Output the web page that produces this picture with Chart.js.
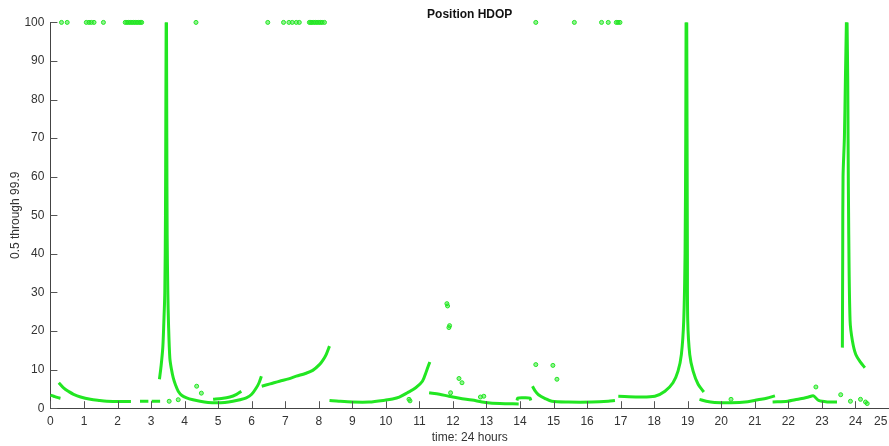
<!DOCTYPE html>
<html>
<head>
<meta charset="utf-8">
<script src="https://cdn.jsdelivr.net/npm/chart.js@4/dist/chart.umd.min.js"></script>
<style>
html,body{margin:0;padding:0;background:#fff;}
#wrap{width:889px;height:446px;}
</style>
</head>
<body>
<div id="wrap"><canvas id="c" width="889" height="446"></canvas></div>
<script>
// ---- data (x = hour, y = HDOP) ----
const segA = [[0,3.4],[0.1,3.1],[0.2,2.8],[0.3,2.6]];
const segB = [[0.25,6.6],[0.4,5.2],[0.55,4.3],[0.69,3.6],[0.9,2.9],[1.19,2.3],[1.45,2.0],[1.68,1.8],[2.0,1.75],[2.4,1.75]];
const segB2 = [[2.67,1.8],[2.92,1.8]];
const segB3 = [[3.02,1.8],[3.27,1.8]];
const spike1L = [[3.25,7.5],[3.3,11],[3.35,15.7],[3.38,22],[3.41,30],[3.43,50],[3.44,75],[3.45,100]];
const spike1R = [[3.46,100],[3.47,70],[3.48,45],[3.5,30],[3.52,22],[3.56,13],[3.61,10],[3.66,7.9],[3.73,6],[3.81,4.4],[3.92,3.3],[4.06,2.7],[4.25,2.2],[4.46,1.8],[4.7,1.5],[4.95,1.4],[5.2,1.5],[5.44,1.8],[5.65,2.2],[5.84,2.7],[6.0,3.6],[6.14,5.3],[6.22,6.6],[6.29,8.3]];
const segSmall = [[4.85,2.3],[5.1,2.5],[5.35,2.9],[5.55,3.6],[5.69,4.4]];
const segC = [[6.3,5.7],[6.55,6.3],[6.83,7.0],[7.1,7.6],[7.33,8.3],[7.6,9.0],[7.82,9.8],[8.02,11.3],[8.12,12.4],[8.22,13.9],[8.32,16.1]];
const segD = [[8.32,2.0],[8.6,1.8],[9.01,1.6],[9.5,1.6],[10.0,2.1],[10.2,2.4],[10.4,2.9],[10.64,4.0],[10.89,5.3],[11.09,7.0],[11.21,9.6],[11.31,12.0]];
const segE = [[11.29,4.0],[11.6,3.6],[11.88,3.1],[12.2,2.6],[12.57,2.1],[12.97,1.5],[13.4,1.2],[13.96,1.1]];
const segF = [[13.91,2.0],[13.93,2.6],[14.1,2.7],[14.3,2.6],[14.32,2.0]];
const segG = [[14.37,5.7],[14.45,4.5],[14.55,3.5],[14.75,2.5],[14.95,1.8],[15.44,1.6],[16.14,1.6],[16.63,1.8],[16.83,2.0]];
const segH = [[16.93,3.1],[17.52,2.9],[18.02,3.1],[18.32,4.4],[18.56,6.6],[18.71,9.6],[18.81,13.9],[18.88,22.6],[18.92,40],[18.94,70],[18.95,100]];
const spike3R = [[18.97,100],[18.98,70],[18.99,40],[19.0,22.6],[19.06,13.9],[19.16,9.6],[19.31,6.2],[19.48,4.2]];
const segI = [[19.35,2.3],[19.55,1.8],[19.8,1.5],[20.29,1.4],[20.79,1.7],[21.09,2.2],[21.35,2.6],[21.6,3.2]];
const segJ = [[21.53,1.6],[21.98,1.8],[22.2,2.2],[22.4,2.5],[22.6,2.9],[22.75,3.2],[22.9,2.0],[23.2,1.6],[23.45,1.6]];
const spike4L = [[23.61,15.7],[23.62,40],[23.63,60],[23.67,70],[23.7,85],[23.73,100]];
const spike4R = [[23.75,100],[23.77,85],[23.78,70],[23.8,45],[23.84,22.6],[23.91,17.4],[24.01,13.9],[24.16,11.8],[24.28,10.5]];
const looseDots = [[3.54,1.8],[3.81,2.2],[4.36,5.7],[4.5,3.9],[10.69,2.3],[10.72,1.9],[11.82,27.1],[11.84,26.5],[11.88,20.9],[11.9,21.4],[11.93,4.0],[12.18,7.7],[12.27,6.6],[12.82,2.9],[12.92,3.1],[14.47,11.3],[14.98,11.1],[15.1,7.5],[20.29,2.3],[22.82,5.5],[23.56,3.5],[23.85,1.8],[24.15,2.3],[24.3,1.6],[24.35,1.2]];
const topRowX = [0.33,0.5,1.07,1.15,1.22,1.3,1.58,2.23,2.28,2.33,2.38,2.43,2.48,2.53,2.58,2.63,2.68,2.72,4.34,6.48,6.95,7.11,7.21,7.33,7.42,7.72,7.76,7.8,7.85,7.9,7.95,8.0,8.05,8.1,8.17,14.47,15.62,16.43,16.63,16.87,16.92,16.98];
const topRowY = 100;
const xTicks = [0,1,2,3,4,5,6,7,8,9,10,11,12,13,14,15,16,17,18,19,20,21,22,23,24,25];
const yTicks = [0,10,20,30,40,50,60,70,80,90,100];

const GREEN = '#22e622';
const toPts = a => a.map(p => ({x:p[0], y:p[1]}));

const curves = [segA,segB,segB2,segB3,spike1L,spike1R,segSmall,segC,segD,segE,segF,segG,segH,spike3R,segI,segJ,spike4L,spike4R];
const datasets = curves.map(c => ({
  data: toPts(c), showLine: true, borderColor: GREEN, borderWidth: 3,
  pointRadius: 0, tension: 0.3, fill: false
}));
datasets.push({ data: toPts(looseDots), showLine:false, pointRadius:2, pointBorderWidth:1, borderColor:GREEN, backgroundColor:'rgba(34,230,34,0.5)' });
datasets.push({ data: topRowX.map(x => ({x:x, y:topRowY})), showLine:false, pointRadius:2, pointBorderWidth:1, borderColor:GREEN, backgroundColor:'rgba(34,230,34,0.5)' });

const inwardTicks = {
  id: 'inwardTicks',
  afterDraw(chart) {
    const {ctx, chartArea, scales} = chart;
    ctx.save();
    ctx.strokeStyle = '#555';
    ctx.lineWidth = 1;
    ctx.beginPath();
    scales.x.ticks.forEach(t => {
      const px = Math.round(scales.x.getPixelForValue(t.value)) + 0.5;
      ctx.moveTo(px, chartArea.bottom);
      ctx.lineTo(px, chartArea.bottom - 7);
    });
    scales.y.ticks.forEach(t => {
      const py = Math.round(scales.y.getPixelForValue(t.value)) + 0.5;
      ctx.moveTo(chartArea.left, py);
      ctx.lineTo(chartArea.left + 7, py);
    });
    ctx.stroke();
    ctx.restore();
  }
};

new Chart(document.getElementById('c'), {
  type: 'scatter',
  data: { datasets },
  options: {
    responsive: false,
    animation: false,
    clip: false,
    layout: { autoPadding: false, padding: { left: 8, right: 0, top: 0, bottom: 1 } },
    plugins: {
      legend: { display: false },
      tooltip: { enabled: false },
      title: { display: true, fullSize: false, text: 'Position HDOP', color: '#111',
               font: { family: 'Liberation Sans', size: 12, weight: 'bold' },
               padding: { top: 7, bottom: 1 } }
    },
    scales: {
      x: {
        type: 'linear', min: 0, max: 25,
        afterBuildTicks: s => { s.ticks = xTicks.map(v => ({value: v})); },
        afterFit: s => { s.paddingRight = 0; },
        grid: { display: false, drawTicks: false },
        border: { display: true, color: '#444', width: 1 },
        ticks: { color: '#333', font: { family: 'Liberation Sans', size: 12 }, padding: 6, maxRotation: 0, autoSkip: false,
                 callback: v => (v === 25 ? '25     ' : String(v)) },
        title: { display: true, text: 'time: 24 hours', color: '#333', font: { family: 'Liberation Sans', size: 12 }, padding: { top: -4, bottom: 0 } }
      },
      y: {
        type: 'linear', min: 0, max: 100,
        afterBuildTicks: s => { s.ticks = yTicks.map(v => ({value: v})); },
        grid: { display: false, drawTicks: false },
        border: { display: true, color: '#444', width: 1 },
        ticks: { color: '#333', font: { family: 'Liberation Sans', size: 12 }, padding: 6 },
        title: { display: true, text: '0.5 through 99.9', color: '#333', font: { family: 'Liberation Sans', size: 12 }, padding: { top: 0, bottom: -4 } }
      }
    }
  },
  plugins: [inwardTicks]
});
</script>
</body>
</html>
